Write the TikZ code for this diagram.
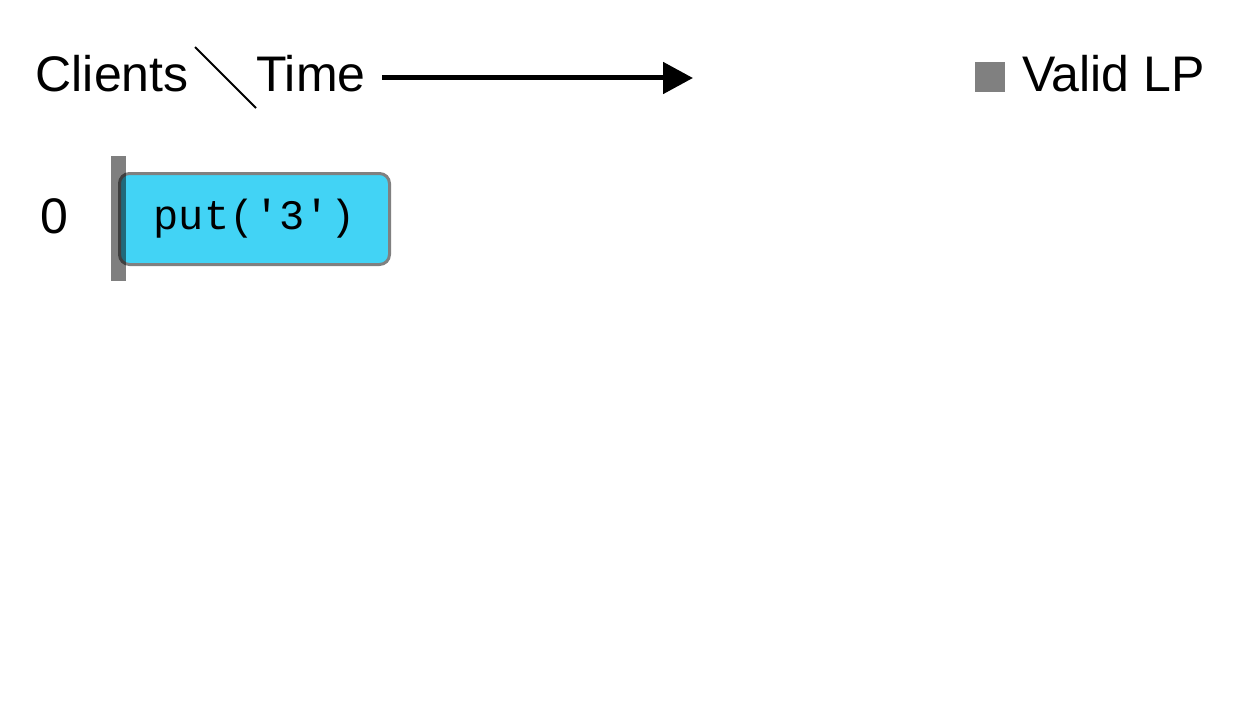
\documentclass[tikz,border=0pt]{standalone}
\usepackage{fontspec}
\setmainfont{Liberation Sans}
\setmonofont{Liberation Mono}
\usetikzlibrary{arrows.meta}
\definecolor{opcyan}{RGB}{66,211,245}
\definecolor{lpgray}{RGB}{128,128,128}

\begin{document}
\begin{tikzpicture}[x=1pt, y=-1pt, font=\fontsize{50}{60}\selectfont]
	%%%%% START %%%%%
	\useasboundingbox (0, 0) rectangle (1255, 706);

	\node[anchor=base west, inner sep=0] (clients) at (35.5, 92) {Clients};
	\node[anchor=base west, inner sep=0] (time) at (256, 92) {Time};
	\draw[line width=2pt] (195, 47) -- (256, 108);

	\coordinate (tstart) at (382, 78);
	\coordinate (tend) at (693, 78);
	\draw[line width=5pt, -{Triangle[length=30pt, width=31pt]}] (tstart) -- (tend);

	\node[fill=lpgray, minimum size=30pt, inner sep=0] (lpkey) at (990, 77.5) {};
	\node[anchor=base west, inner sep=0] (lplabel) at (1022, 92) {Valid LP};

	\node[anchor=base west, inner sep=0] (client0) at (40, 233) {0};

	\node[draw=lpgray, line width=3pt, fill=opcyan, rounded corners=10pt, minimum width=270pt, minimum height=91pt, inner sep=0, font=\ttfamily\fontsize{42}{50}\selectfont] (put3) at (254.5, 219) {put('3')\hspace{4pt}};
	\fill[black, opacity=0.5] (111, 156) rectangle (126, 281);

	%%%%% END %%%%%
\end{tikzpicture}
\end{document}
